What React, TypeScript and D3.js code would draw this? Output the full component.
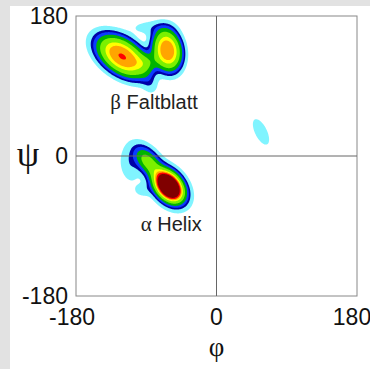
import React from "react";
import * as d3 from "d3";

const W = 370;
const H = 369;

// axis domains and ticks
const phiDomain = [-180, 180];
const psiDomain = [-180, 180];
const xTickLabels = ["-180", "0", "180"];
const yTickLabels = ["180", "0", "-180"];

// density components:
// [phi, psi, sigmaMajor, sigmaMinor, angleDeg, weight, flatness]
const helixComponents: number[][] = [
  [-61, -39, 14, 9.6, -51, 1.0, 1],
  [-88, -7, 15, 8.5, -50, 0.25, 1],
  [-112, -12, 15, 8, -80, 0.045, 1],
  [-94, -44, 8, 6, 0, 0.035, 1],
];
const betaComponents: number[][] = [
  [-121, 128, 27.5, 16.2, -35, 0.422, 1.4],
  [-63, 136, 20.4, 13.8, -79, 0.41, 1.4],
  [-88, 120, 9, 9, 0, 0.1, 1],
  [-86, 94, 10, 6.5, -70, 0.04, 1],
  [-84, 165, 18, 6.4, 0, 0.035, 1],
];
const leftHandedComponents: number[][] = [[57, 31, 14, 6, -64, 0.045, 1]];

// contour levels and colours (low to high)
const levelThresholds = [0.02, 0.056, 0.085, 0.13, 0.2, 0.3, 0.36, 0.42, 0.49];
const levelColors = [
  "#80f4ff",
  "#0000a8",
  "#0a3cff",
  "#00b400",
  "#7cf000",
  "#ffff00",
  "#ffa500",
  "#ff0000",
  "#800000",
];

const regionLabels = [
  { greek: "β", text: " Faltblatt", phi: -80, psi: 70 },
  { greek: "α", text: " Helix", phi: -58, psi: -87 },
];

export default function App() {
  const x = d3.scaleLinear().domain(phiDomain).range([76, 357]);
  const y = d3.scaleLinear().domain(psiDomain).range([296, 16]);

  const n = 360;
  const comps = [...helixComponents, ...betaComponents, ...leftHandedComponents];
  const values = new Array(n * n);
  for (let j = 0; j < n; j++) {
    const psi = 180 - (j + 0.5);
    for (let i = 0; i < n; i++) {
      const phi = -180 + (i + 0.5);
      let f = 0;
      for (const [p0, q0, s1, s2, a, w, p] of comps) {
        const t = (a * Math.PI) / 180;
        const dx = phi - p0;
        const dy = psi - q0;
        const u = dx * Math.cos(t) + dy * Math.sin(t);
        const v = -dx * Math.sin(t) + dy * Math.cos(t);
        const r2 = (u / s1) ** 2 + (v / s2) ** 2;
        f += w * Math.exp(-0.5 * Math.pow(r2, p));
      }
      values[j * n + i] = f;
    }
  }
  const contours = d3.contours().size([n, n]).thresholds(levelThresholds)(values);
  const path = d3.geoPath(
    d3.geoTransform({
      point(px: number, py: number) {
        // @ts-ignore
        this.stream.point(x(-180 + px), y(180 - py));
      },
    })
  );

  const sans = "'Liberation Sans', Arial, sans-serif";
  const serif = "'Liberation Serif', 'DejaVu Serif', serif";

  return (
    <svg width={W} height={H} style={{ position: "absolute", left: 0, top: 0 }}>
      <rect x={0} y={0} width={W} height={H} fill="#e2e2e2" />
      <rect x={10} y={6} width={W - 10} height={H - 6} fill="#ffffff" />
      <g>
        {contours.map((c, k) => (
          <path key={k} d={path(c as any) || ""} fill={levelColors[k]} stroke="none" />
        ))}
      </g>
      <rect x={x(-180)} y={y(180)} width={x(180) - x(-180)} height={y(-180) - y(180)} fill="none" stroke="#888" strokeWidth={1} />
      <line x1={x(0)} x2={x(0)} y1={y(180)} y2={y(-180)} stroke="#666" strokeWidth={1} />
      <line x1={x(-180)} x2={x(180)} y1={y(0)} y2={y(0)} stroke="#666" strokeWidth={1} />
      {yTickLabels.map((t) => (
        <text key={"y" + t} x={68} y={y(+t)} dy="0.36em" textAnchor="end" fontFamily={sans} fontSize={23} fill="#111">
          {t}
        </text>
      ))}
      {xTickLabels.map((t) => (
        <text
          key={"x" + t}
          x={+t === -180 ? 72 : +t === 180 ? 352 : x(+t)}
          y={325}
          textAnchor="middle"
          fontFamily={sans}
          fontSize={23}
          fill="#111"
        >
          {t}
        </text>
      ))}
      <text x={28} y={155} dy="0.3em" textAnchor="middle" fontFamily={serif} fontSize={36} fill="#111">
        ψ
      </text>
      <text x={x(0)} y={356} textAnchor="middle" fontFamily={serif} fontSize={27} fill="#111">
        φ
      </text>
      {regionLabels.map((l) => (
        <text key={l.text} x={x(l.phi)} y={y(l.psi)} dy="0.35em" textAnchor="middle" fontFamily={sans} fontSize={20} fill="#222">
          <tspan fontFamily={serif} fontSize={21}>{l.greek}</tspan>
          {l.text}
        </text>
      ))}
    </svg>
  );
}
